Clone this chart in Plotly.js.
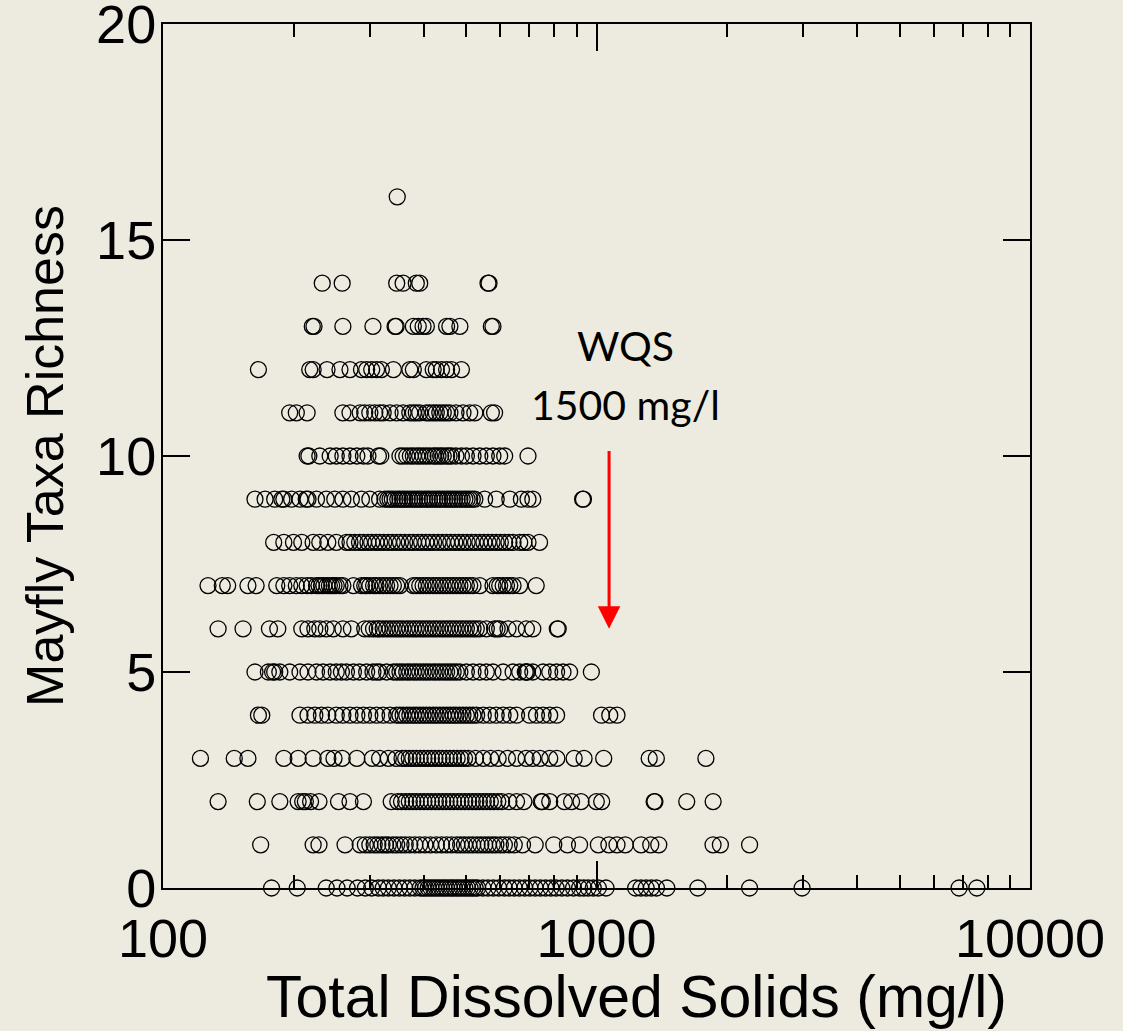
<!DOCTYPE html>
<html>
<head>
<meta charset="utf-8">
<script src="https://cdn.plot.ly/plotly-3.0.1.min.js"></script>
<style>html,body{margin:0;padding:0;background:#edebe0;}#chart{width:1123px;height:1031px;}</style>
</head>
<body>
<div id="chart"></div>
<script>
// TDS (mg/l) values of sites for each mayfly taxa richness level
const richnessLevels = [0,1,2,3,4,5,6,7,8,9,10,11,12,13,14,15,16];
const r0 = [178,204,238,252,266,281,293,303,314,322,331,341,351,361,371,381,392,398,403,409,415,421,427,433,439,445,451,458,464,470,477,483,490,497,504,511,518,525,532,547,562,578,595,613,629,646,664,683,702,722,742,763,785,807,832,857,885,914,935,957,983,1010,1052,1231,1266,1302,1338,1375,1453,1713,2255,2980,6860,7540];
const r1 = [168,222,229,263,285,293,300,307,313,320,326,331,339,346,354,362,371,381,391,402,414,427,439,451,463,476,486,496,507,518,530,541,552,563,575,586,600,613,629,646,675,722,797,857,914,1010,1068,1115,1165,1267,1334,1392,1857,1931,2255];
const r2 = [134,165,186,205,210,213,219,229,254,270,290,336,348,355,363,370,377,384,392,400,408,416,425,433,442,450,459,468,478,487,497,507,517,527,537,548,558,569,580,592,604,628,654,680,745,750,780,843,876,921,999,1028,1358,1364,1615,1858];
const r3 = [122,146,157,190,205,222,240,248,259,280,304,316,331,345,356,363,370,377,384,392,400,408,416,424,433,441,450,459,468,477,487,496,506,526,548,570,593,623,654,688,713,741,780,810,888,936,1039,1323,1374,1788];
const r4 = [166,169,207,216,224,232,240,251,260,270,280,290,300,311,322,334,346,352,358,365,371,378,384,391,398,405,412,420,427,435,443,451,459,467,474,483,492,501,510,519,529,548,567,587,609,631,654,701,727,753,780,809,1027,1073,1115];
const r5 = [163,175,179,181,186,196,207,216,226,234,243,251,258,265,275,284,295,305,311,316,328,340,346,352,358,365,371,378,384,391,398,405,412,420,427,435,443,451,459,467,475,484,501,519,538,557,577,609,642,665,685,689,693,713,753,780,809,837,867,973];
const r6 = [134,153,176,184,209,216,224,230,238,247,260,272,292,299,306,312,316,322,328,334,340,346,352,358,365,371,378,384,391,398,405,412,420,427,435,443,451,459,467,475,484,492,501,510,519,528,538,557,582,590,598,625,654,689,713,812,816];
const r7 = [127,137,141,157,164,183,190,196,203,209,215,220,226,229,232,235,239,242,245,248,251,256,260,275,287,292,295,300,306,310,316,322,328,334,340,346,352,378,384,391,398,405,412,420,427,435,443,451,459,467,475,484,492,501,510,519,538,577,590,598,609,620,631,642,665,726];
const r8 = [180,190,200,209,222,230,240,251,265,270,277,284,290,297,303,310,316,323,331,338,346,353,361,370,378,387,395,404,412,421,431,441,451,461,471,481,492,503,515,526,538,550,562,574,587,600,614,628,642,665,680,695,739];
const r9 = [163,172,181,188,190,198,207,214,216,226,238,249,260,272,287,300,316,325,330,334,338,343,348,352,357,361,366,371,376,381,386,391,396,402,407,412,418,424,430,435,441,447,453,459,465,471,477,484,490,497,503,510,517,524,552,587,631,671,695,713,929,933];
const r10 = [215,217,230,243,251,260,270,280,290,297,314,318,352,358,365,372,378,385,391,398,405,412,420,425,431,437,443,451,457,463,474,488,501,519,538,557,577,598,614,695];
const r11 = [196,203,215,260,270,285,292,300,308,316,322,334,346,358,371,378,384,391,405,412,420,427,435,443,451,459,474,492,510,524,572,582];
const r12 = [166,218,222,239,256,270,287,295,303,311,319,340,371,378,405,420,427,439,451,463,488];
const r13 = [221,223,260,305,343,345,378,388,398,405,451,459,484,572,577];
const r14 = [233,259,346,358,384,391,562,565];
const r15 = [];
const r16 = [347];
const rows = [r0,r1,r2,r3,r4,r5,r6,r7,r8,r9,r10,r11,r12,r13,r14,r15,r16];

const xTickVals = [100, 1000, 10000];
const xTickText = ['100', '1000', '10000'];
const yTickVals = [0, 5, 10, 15, 20];
const yTickText = ['0', '5', '10', '15', '20'];

const xTitle = 'Total Dissolved Solids (mg/l)';
const yTitle = 'Mayfly Taxa Richness';
const noteLines = ['WQS', '1500 mg/l'];

const xs = [], ys = [];
rows.forEach((row, i) => row.forEach(v => { xs.push(v); ys.push(richnessLevels[i]); }));

const bg = '#edebe0';
const arial = 'Liberation Sans, Arial, sans-serif';
const tickFont = {family: arial, size: 54, color: '#000'};

const trace = {
  type: 'scatter', mode: 'markers', x: xs, y: ys, cliponaxis: false,
  marker: {symbol: 'circle-open', size: 16, color: '#000', line: {width: 1.3, color: '#000'}},
  hoverinfo: 'skip', showlegend: false
};

const layout = {
  width: 1123, height: 1031,
  margin: {l: 163, r: 93, t: 24, b: 143},
  paper_bgcolor: bg, plot_bgcolor: bg,
  showlegend: false,
  xaxis: {
    type: 'log', range: [2, 4], tickmode: 'array', tickvals: xTickVals, ticktext: xTickText,
    ticks: 'inside', ticklen: 27, tickwidth: 2, tickcolor: '#000',
    showline: true, linewidth: 2, linecolor: '#000', mirror: 'allticks',
    showgrid: false, zeroline: false, tickfont: tickFont, ticklabelstandoff: 2,
    ticklabeloverflow: 'allow',
    minor: {ticks: 'inside', ticklen: 13, tickwidth: 2, tickcolor: '#000', dtick: 'D1', showgrid: false}
  },
  yaxis: {
    range: [0, 20], tickmode: 'array', tickvals: yTickVals, ticktext: yTickText,
    ticks: 'inside', ticklen: 27, tickwidth: 2, tickcolor: '#000',
    showline: true, linewidth: 2, linecolor: '#000', mirror: 'allticks',
    showgrid: false, zeroline: false, tickfont: tickFont, ticklabelstandoff: -6,
    ticklabeloverflow: 'allow',
    title: {text: yTitle, font: {family: arial, size: 52, color: '#000'}, standoff: 16}
  },
  annotations: [
    {xref: 'paper', yref: 'paper', x: 0.5456, y: -0.1262, xanchor: 'center', yanchor: 'middle',
     text: xTitle, showarrow: false, font: {family: arial, size: 59, color: '#000'}},
    {xref: 'x', yref: 'y', x: 3.066, y: 12.55, text: noteLines[0], showarrow: false,
     font: {family: 'Lato, Open Sans, sans-serif', size: 41, color: '#000'}},
    {xref: 'x', yref: 'y', x: 3.066, y: 11.2, text: noteLines[1], showarrow: false,
     font: {family: 'Lato, Open Sans, sans-serif', size: 41, color: '#000'}},
    {xref: 'x', yref: 'y', x: 3.029, y: 6.0, axref: 'x', ayref: 'y', ax: 3.029, ay: 10.15,
     text: '', showarrow: true, arrowhead: 2, arrowsize: 1.5, arrowwidth: 3, arrowcolor: '#ff0000'}
  ]
};

Plotly.newPlot('chart', [trace], layout, {displayModeBar: false, staticPlot: true});
</script>
</body>
</html>
